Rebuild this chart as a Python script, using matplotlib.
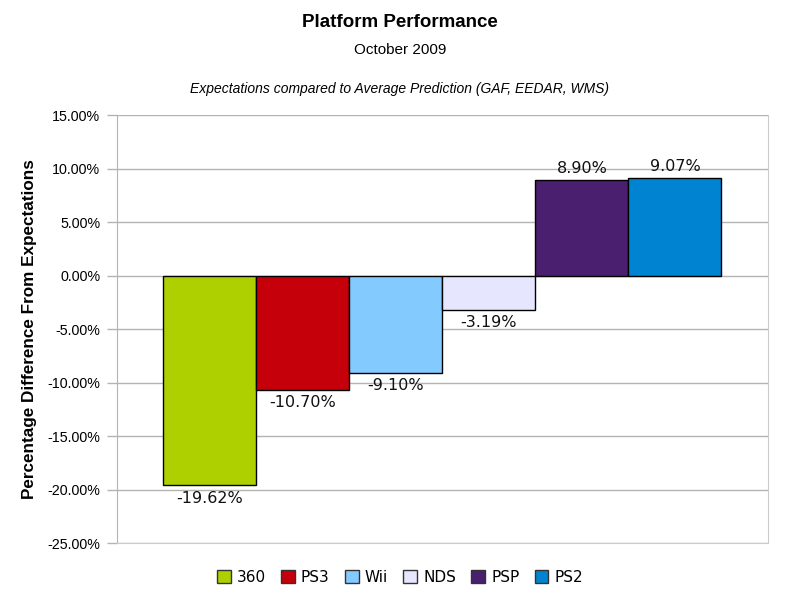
import matplotlib.pyplot as plt
from matplotlib.patches import Patch
from matplotlib.ticker import FuncFormatter
import numpy as np

# データ
platforms = ['360', 'PS3', 'Wii', 'NDS', 'PSP', 'PS2']
diff_pct = [-19.62, -10.70, -9.10, -3.19, 8.90, 9.07]
colors = ['#aecf00', '#c5000b', '#83caff', '#e6e6ff', '#4b1f6f', '#0084d1']

fig = plt.figure(figsize=(8, 6.07), dpi=100)
ax = fig.add_axes([0.146, 0.1054, 0.814, 0.7051])

x = np.arange(len(platforms))
bars = ax.bar(x, diff_pct, width=1.0, color=colors, edgecolor='black', linewidth=1.0, zorder=3)

# データラベル
for xi, v in zip(x, diff_pct):
    off = 0.4 if v > 0 else -0.5
    va = 'bottom' if v > 0 else 'top'
    ax.text(xi, v + off, '%.2f%%' % v, ha='center', va=va,
            fontsize=11.5, family='DejaVu Sans', color='#111111')

ax.set_xlim(-1, 6)
ax.set_ylim(-25, 15)
ax.set_yticks(np.arange(-25, 15.1, 5))
ax.yaxis.set_major_formatter(FuncFormatter(lambda v, p: '%.2f%%' % v))
ax.set_xticks([])
ax.grid(axis='y', color='#b3b3b3', linewidth=1.0, zorder=0)

ax.spines['top'].set_visible(False)
ax.spines['left'].set_color('#b3b3b3')
ax.spines['right'].set_color('#cccccc')
ax.spines['bottom'].set_color('#cccccc')
ax.tick_params(axis='y', length=7, width=1, color='#b3b3b3', pad=5, labelsize=10.3)
for lbl in ax.get_yticklabels():
    lbl.set_family('Liberation Sans')

ax.set_ylabel('Percentage Difference From Expectations', fontsize=12.3,
              fontweight='bold', family='Liberation Sans')
ax.yaxis.set_label_coords(-0.122, 0.5)

fig.text(0.5, 0.963, 'Platform Performance', ha='center', va='center',
         fontsize=13.5, fontweight='bold', family='Liberation Sans')
fig.text(0.5, 0.918, 'October 2009', ha='center', va='center',
         fontsize=11, family='Liberation Sans')
fig.text(0.5, 0.853, 'Expectations compared to Average Prediction (GAF, EEDAR, WMS)',
         ha='center', va='center', fontsize=10, style='italic', family='Liberation Sans')

handles = [Patch(facecolor=c, edgecolor='#333333', label=p) for p, c in zip(platforms, colors)]
fig.legend(handles=handles, loc='center', bbox_to_anchor=(0.5, 0.049), ncol=6,
           frameon=False, handlelength=0.9, handleheight=0.9, handletextpad=0.4,
           columnspacing=1.0, prop={'family': 'DejaVu Sans', 'size': 11})

fig.savefig('out.png', dpi=100)
